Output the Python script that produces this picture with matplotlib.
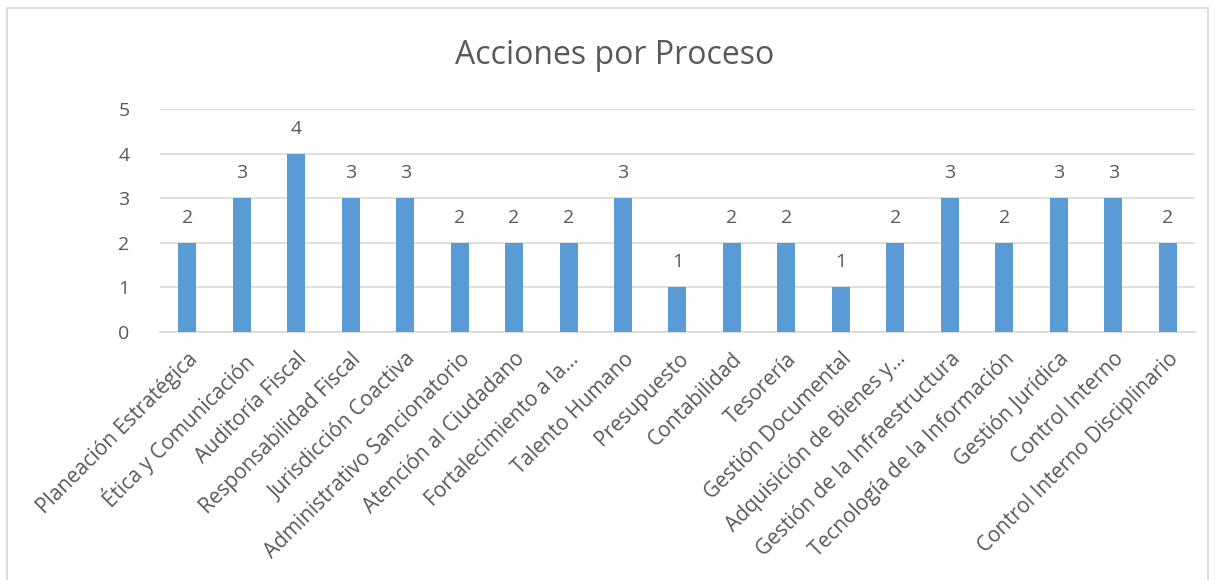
import matplotlib.pyplot as plt
import numpy as np
from matplotlib.patches import Rectangle

plt.rcParams['font.family'] = ['Open Sans', 'DejaVu Sans']

categories = ['Planeación Estratégica', 'Ética y Comunicación', 'Auditoría Fiscal',
              'Responsabilidad Fiscal', 'Jurisdicción Coactiva', 'Administrativo Sancionatorio',
              'Atención al Ciudadano', 'Fortalecimiento a la...', 'Talento Humano',
              'Presupuesto', 'Contabilidad', 'Tesorería', 'Gestión Documental',
              'Adquisición de Bienes y...', 'Gestión de la Infraestructura',
              'Tecnología de la Información', 'Gestión Jurídica', 'Control Interno',
              'Control Interno Disciplinario']
values = [2, 3, 4, 3, 3, 2, 2, 2, 3, 1, 2, 2, 1, 2, 3, 2, 3, 3, 2]
yticks = [0, 1, 2, 3, 4, 5]

bar_color = '#5B9BD5'
text_color = '#595959'
grid_color = '#D9D9D9'

fig = plt.figure(figsize=(12.15, 5.8), dpi=100)
fig.patch.set_facecolor('white')
# chart area border
fig.add_artist(Rectangle((7 / 1215, -0.01), 1201 / 1215, 1 - 8 / 580 + 0.01,
                         transform=fig.transFigure, fill=False,
                         edgecolor=grid_color, linewidth=1.2))

ax = fig.add_axes([0.1317, 0.4276, 0.8518, 0.3845])
x = np.arange(len(categories))
bars = ax.bar(x, values, width=0.33, color=bar_color, zorder=3)

for xi, v in zip(x, values):
    ax.annotate(str(v), (xi, v), xytext=(0, 18), textcoords='offset points',
                ha='center', va='center', fontsize=14, color=text_color)

ax.set_xlim(-0.5, len(categories) - 0.5)
ax.set_ylim(0, 5)
ax.set_yticks(yticks)
ax.set_yticklabels([str(t) for t in yticks], fontsize=14, color=text_color)
ax.set_xticks(x)
ax.set_xticklabels(categories, rotation=45, ha='right', rotation_mode='anchor',
                   fontsize=15, color=text_color)
ax.tick_params(axis='x', length=0, pad=12)
ax.tick_params(axis='y', length=0, pad=22)
ax.grid(axis='y', color=grid_color, linewidth=1.2, zorder=0)
for side in ['top', 'right', 'left']:
    ax.spines[side].set_visible(False)
ax.spines['bottom'].set_color(grid_color)
ax.spines['bottom'].set_linewidth(1.2)

fig.text(0.506, 0.905, 'Acciones por Proceso', ha='center', va='center',
         fontsize=23, color=text_color)

plt.savefig('out.png', dpi=100, facecolor=fig.get_facecolor())
